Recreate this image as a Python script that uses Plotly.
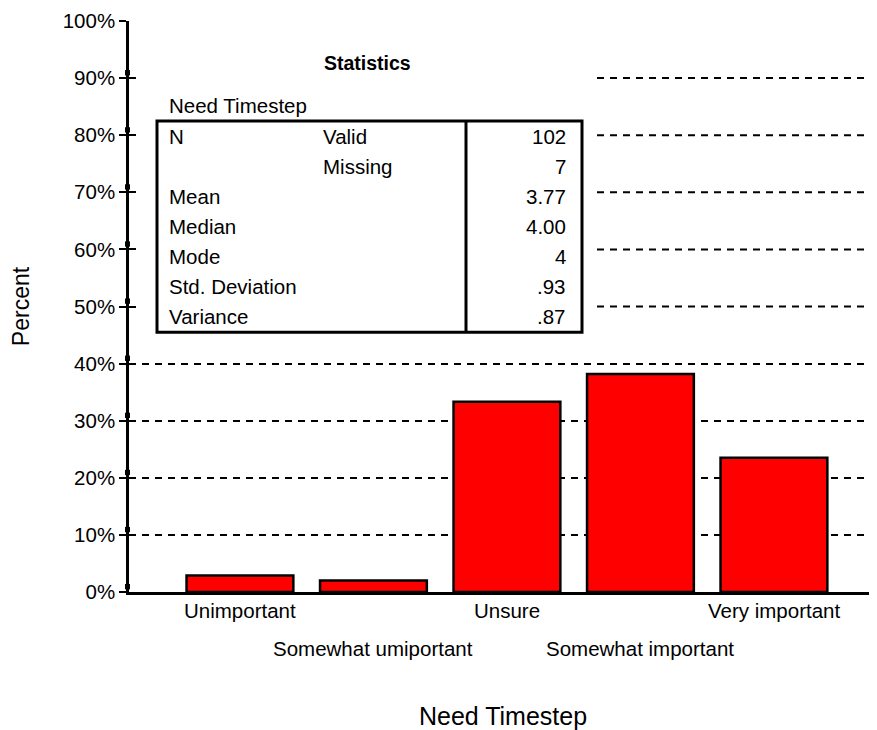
import plotly.graph_objects as go

# ---- data ----
categories = ["Unimportant", "Somewhat umiportant", "Unsure", "Somewhat important", "Very important"]
percents = [2.9, 2.0, 33.3, 38.2, 23.5]
y_ticks = [0, 10, 20, 30, 40, 50, 60, 70, 80, 90, 100]
y_tick_labels = [f"{v}%" for v in y_ticks]
grid_full = [10, 20, 30, 40]          # gridlines across the whole plot
grid_partial = [50, 60, 70, 80, 90]   # gridlines interrupted by the statistics table

stat_title = "Statistics"
stat_variable = "Need Timestep"
stat_labels = ["N", "", "Mean", "Median", "Mode", "Std. Deviation", "Variance"]
stat_sub = ["Valid", "Missing", "", "", "", "", ""]
stat_values = ["102", "7", "3.77", "4.00", "4", ".93", ".87"]

# ---- layout geometry (page pixels; the page body adds an 8px offset) ----
OFF = 8
W, H = 877 - OFF, 730 - OFF
L, R, T, B = 129, 877, 21, 591.7
FONT = "Liberation Sans, Arial, sans-serif"
DASH = "7px,6px"
FS = 20.5


def px(x):
    return (x - L) / (R - L)


def py(y):
    return (B - y) / (B - T)


fig = go.Figure()
fig.add_trace(go.Bar(
    x=list(range(len(categories))), y=percents,
    marker=dict(color="#FF0000", line=dict(color="black", width=2.5)),
    width=0.8, hoverinfo="skip", showlegend=False,
))

annotations = []
# staggered category labels
for i, c in enumerate(categories):
    annotations.append(dict(
        x=i, xref="x", y=py(610 if i % 2 == 0 else 648), yref="paper",
        text=c, showarrow=False, xanchor="center", yanchor="middle",
        font=dict(size=FS, color="black", family=FONT)))

# statistics table
annotations.append(dict(x=px(367), y=py(63), xref="paper", yref="paper", text=f"<b>{stat_title}</b>",
                        showarrow=False, xanchor="center", yanchor="middle",
                        font=dict(size=19.5, color="black", family=FONT)))
annotations.append(dict(x=px(167), y=py(105), xref="paper", yref="paper", text=stat_variable,
                        showarrow=False, xanchor="left", yanchor="middle",
                        font=dict(size=FS, color="black", family=FONT)))
for i in range(len(stat_labels)):
    yy = py(136 + 30 * i)
    if stat_labels[i]:
        annotations.append(dict(x=px(167), y=yy, xref="paper", yref="paper", text=stat_labels[i],
                                showarrow=False, xanchor="left", yanchor="middle",
                                font=dict(size=FS, color="black", family=FONT)))
    if stat_sub[i]:
        annotations.append(dict(x=px(321), y=yy, xref="paper", yref="paper", text=stat_sub[i],
                                showarrow=False, xanchor="left", yanchor="middle",
                                font=dict(size=FS, color="black", family=FONT)))
    annotations.append(dict(x=px(568), y=yy, xref="paper", yref="paper", text=stat_values[i],
                            showarrow=False, xanchor="right", yanchor="middle",
                            font=dict(size=FS, color="black", family=FONT)))

shapes = []
# gridlines to the right of the table
for v in grid_partial:
    shapes.append(dict(type="line", xref="paper", yref="y", x0=px(597), x1=1, y0=v, y1=v,
                       line=dict(color="black", width=2, dash=DASH), layer="below"))
# table frame
shapes.append(dict(type="rect", xref="paper", yref="paper", x0=px(157), x1=px(582), y0=py(332), y1=py(121),
                   fillcolor="rgba(0,0,0,0)", line=dict(color="black", width=3), layer="above"))
shapes.append(dict(type="line", xref="paper", yref="paper", x0=px(466), x1=px(466), y0=py(332), y1=py(121),
                   line=dict(color="black", width=3), layer="above"))
# small square markers beside each y tick
for v in y_ticks:
    shapes.append(dict(type="rect", xref="paper", yref="y", x0=px(125), x1=px(130),
                       y0=v + 2.7 * 100 / (B - T), y1=v + 8 * 100 / (B - T),
                       fillcolor="black", line=dict(width=0), layer="above"))

fig.update_layout(
    width=W, height=H,
    margin=dict(l=L - OFF, r=(877 - R), t=T - OFF, b=730 - B, autoexpand=False),
    paper_bgcolor="white", plot_bgcolor="white",
    font=dict(family=FONT, color="black", size=FS),
    bargap=0.2,
    xaxis=dict(range=[-0.831, 4.772], showticklabels=False, ticks="", showgrid=False, zeroline=False,
               showline=True, linecolor="black", linewidth=2.5, automargin=False,
               title=dict(text="Need Timestep", font=dict(size=25, family=FONT), standoff=114)),
    yaxis=dict(range=[0, 100], tickvals=grid_full, showticklabels=False, ticks="", automargin=False,
               showgrid=True, gridcolor="black", gridwidth=2, griddash=DASH, zeroline=False),
    yaxis2=dict(range=[0, 100], overlaying="y", anchor="x", side="left", automargin=False,
                tickvals=y_ticks, ticktext=y_tick_labels, ticks="outside", ticklen=7, tickwidth=2,
                tickcolor="black", showline=True, linecolor="black", linewidth=2.5, showgrid=False,
                zeroline=False, tickfont=dict(size=FS, family=FONT),
                title=dict(text="Percent", font=dict(size=23, family=FONT), standoff=27)),
    yaxis3=dict(range=[0, 100], overlaying="y", anchor="x", side="left", automargin=False,
                tickvals=y_ticks, showticklabels=False, ticks="inside", ticklen=7, tickwidth=2,
                tickcolor="black", showline=False, showgrid=False, zeroline=False),
    annotations=annotations,
    shapes=shapes,
)
# invisible traces to activate overlay axes
fig.add_trace(go.Scatter(x=[None], y=[None], yaxis="y2", showlegend=False, hoverinfo="skip"))
fig.add_trace(go.Scatter(x=[None], y=[None], yaxis="y3", showlegend=False, hoverinfo="skip"))

fig.write_html("out.html")
